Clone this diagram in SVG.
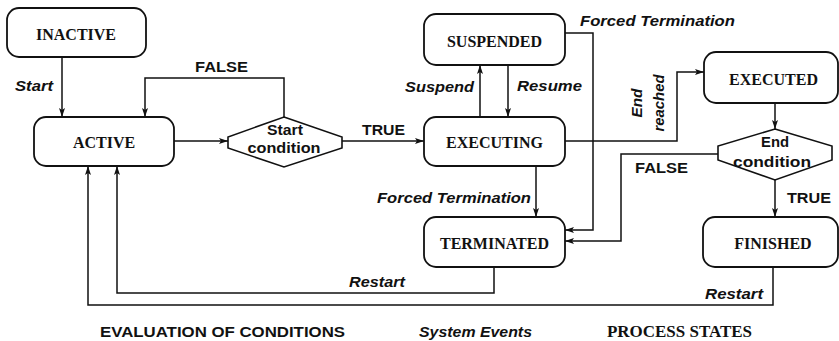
<svg xmlns="http://www.w3.org/2000/svg" width="839" height="341" viewBox="0 0 839 341">
<defs>
<marker id="arr" markerUnits="userSpaceOnUse" markerWidth="10" markerHeight="8" refX="9" refY="3" orient="auto">
<path d="M0,0 L9,3 L0,6 L2,3 z" fill="#111"/>
</marker>
<style>
.box{fill:#fff;stroke:#111;stroke-width:1.8}
.dia{fill:#fff;stroke:#111;stroke-width:1.6}
.node{font-family:"Liberation Serif",serif;font-weight:bold;font-size:16px;fill:#111;text-anchor:middle}
.lab{font-family:"Liberation Sans",Arial,sans-serif;font-weight:bold;font-size:14px;fill:#111}
.ev{font-family:"Liberation Sans",Arial,sans-serif;font-weight:bold;font-style:italic;font-size:14px;fill:#111}
.con{fill:none;stroke:#111;stroke-width:1.5;marker-end:url(#arr)}
</style>
</defs>
<rect width="839" height="341" fill="#fff"/>

<g id="connectors">
<path class="con" d="M62 57 V117"/>
<path class="con" d="M284 117 V78 H145 V117"/>
<path class="con" d="M174 141 H228"/>
<path class="con" d="M342 141 H424"/>
<path class="con" d="M480 117 V65"/>
<path class="con" d="M508 65 V117"/>
<path class="con" d="M565 33 H593 V230 H565"/>
<path class="con" d="M565 141 H677 V72 H704"/>
<path class="con" d="M775 103 V129"/>
<path class="con" d="M718 154 H621 V241 H565"/>
<path class="con" d="M536 166 V217"/>
<path class="con" d="M775 180 V217"/>
<path class="con" d="M494 267 V293 H117 V166"/>
<path class="con" d="M773 267 V305 H88 V166"/>
</g>

<g id="labels">
<text class="ev" x="15" y="91" textLength="38" lengthAdjust="spacingAndGlyphs">Start</text>
<text class="lab" x="195" y="72" textLength="53" lengthAdjust="spacingAndGlyphs">FALSE</text>
<text class="lab" x="362" y="135" textLength="43" lengthAdjust="spacingAndGlyphs">TRUE</text>
<text class="ev" x="405" y="92" textLength="69" lengthAdjust="spacingAndGlyphs">Suspend</text>
<text class="ev" x="517" y="91" textLength="65" lengthAdjust="spacingAndGlyphs">Resume</text>
<text class="ev" x="580" y="26" textLength="155" lengthAdjust="spacingAndGlyphs">Forced Termination</text>
<text class="ev" transform="translate(642,103) rotate(-90)" text-anchor="middle" textLength="29" lengthAdjust="spacingAndGlyphs">End</text>
<text class="ev" transform="translate(664,103) rotate(-90)" text-anchor="middle" textLength="57" lengthAdjust="spacingAndGlyphs">reached</text>
<text class="lab" x="635" y="173" textLength="53" lengthAdjust="spacingAndGlyphs">FALSE</text>
<text class="lab" x="787" y="203" textLength="44" lengthAdjust="spacingAndGlyphs">TRUE</text>
<text class="ev" x="377" y="203" textLength="154" lengthAdjust="spacingAndGlyphs">Forced Termination</text>
<text class="ev" x="349" y="287" textLength="56" lengthAdjust="spacingAndGlyphs">Restart</text>
<text class="ev" x="705" y="299" textLength="58" lengthAdjust="spacingAndGlyphs">Restart</text>
<text class="lab" x="100" y="337" textLength="245" lengthAdjust="spacingAndGlyphs">EVALUATION OF CONDITIONS</text>
<text class="ev" x="419" y="337" textLength="113" lengthAdjust="spacingAndGlyphs">System Events</text>
<text class="node" x="607" y="337" style="text-anchor:start" textLength="145" lengthAdjust="spacingAndGlyphs">PROCESS STATES</text>
</g>

<g id="inactive">
<rect class="box" x="7" y="8" width="139" height="49" rx="12"/>
<text class="node" x="76" y="40">INACTIVE</text>
</g>
<g id="active">
<rect class="box" x="34" y="117" width="140" height="49" rx="12"/>
<text class="node" x="104" y="148">ACTIVE</text>
</g>
<g id="start-condition">
<path class="dia" d="M284 117 L342 137 L342 148 L284 167 L228 148 L228 137 Z"/>
<text class="lab" x="285" y="135" text-anchor="middle" textLength="36" lengthAdjust="spacingAndGlyphs">Start</text>
<text class="lab" x="284" y="153" text-anchor="middle" textLength="73" lengthAdjust="spacingAndGlyphs">condition</text>
</g>
<g id="suspended">
<rect class="box" x="424" y="14" width="141" height="51" rx="12"/>
<text class="node" x="494.5" y="47">SUSPENDED</text>
</g>
<g id="executing">
<rect class="box" x="424" y="117" width="141" height="49" rx="12"/>
<text class="node" x="494.5" y="148">EXECUTING</text>
</g>
<g id="executed">
<rect class="box" x="704" y="52" width="134" height="51" rx="12"/>
<text class="node" x="773.5" y="85">EXECUTED</text>
</g>
<g id="end-condition">
<path class="dia" d="M775 129 L832 146 L832 160 L775 180 L718 160 L718 146 Z"/>
<text class="lab" x="775" y="147" text-anchor="middle" textLength="28" lengthAdjust="spacingAndGlyphs">End</text>
<text class="lab" x="772" y="167" text-anchor="middle" textLength="78" lengthAdjust="spacingAndGlyphs">condition</text>
</g>
<g id="terminated">
<rect class="box" x="424" y="217" width="141" height="50" rx="12"/>
<text class="node" x="494.5" y="249">TERMINATED</text>
</g>
<g id="finished">
<rect class="box" x="703" y="217" width="135" height="50" rx="12"/>
<text class="node" x="773" y="249">FINISHED</text>
</g>
</svg>
